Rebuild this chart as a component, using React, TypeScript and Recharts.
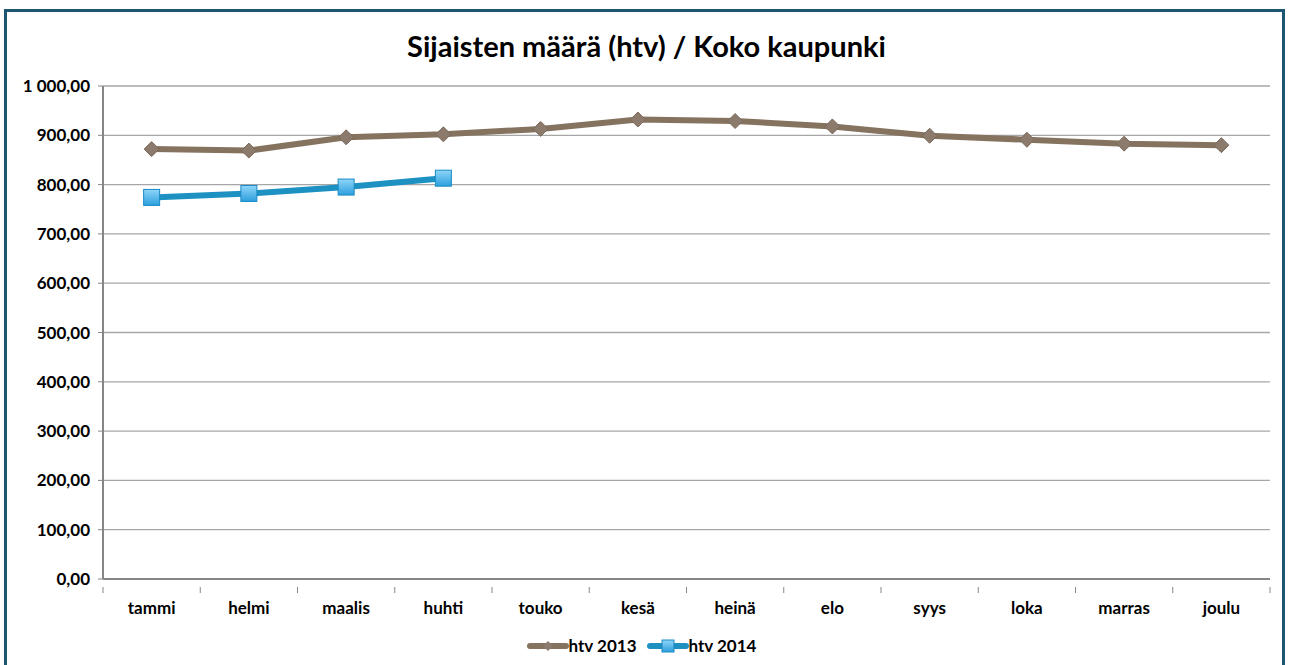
import React from 'react';
import { LineChart, Line, XAxis, YAxis, CartesianGrid } from 'recharts';

const months = ['tammi', 'helmi', 'maalis', 'huhti', 'touko', 'kesä', 'heinä', 'elo', 'syys', 'loka', 'marras', 'joulu'];
const htv2013 = [872, 869, 896, 902, 913, 932, 929, 918, 899, 891, 883, 880];
const htv2014: (number | null)[] = [774, 782, 795, 813, null, null, null, null, null, null, null, null];
const yTicks = [0, 100, 200, 300, 400, 500, 600, 700, 800, 900, 1000];

const seriesNames = ['htv 2013', 'htv 2014'];
const colors = { s2013: '#85735f', s2013Marker: '#8c7b6c', s2014: '#1e91c3' };

const data = months.map((m, i) => ({ month: m, a: htv2013[i], b: htv2014[i] }));

const W = 1293;
const H = 665;
const plotLeft = 103;
const plotRight = 1270;
const band = (plotRight - plotLeft) / months.length;
const font = 'Lato, "Open Sans", sans-serif';

document.body.style.margin = '0';

function fmt(v: number) {
  const s = v.toFixed(2).replace('.', ',');
  const [int, dec] = s.split(',');
  return int.replace(/\B(?=(\d{3})+(?!\d))/g, ' ') + ',' + dec;
}

function Diamond({ cx, cy }: { cx: number; cy: number }) {
  const r = 7.5;
  return (
    <path
      d={`M${cx},${cy - r} L${cx + r},${cy} L${cx},${cy + r} L${cx - r},${cy} Z`}
      fill={colors.s2013Marker}
      stroke="#7a6a5c"
      strokeWidth={1}
    />
  );
}

function Square({ cx, cy }: { cx: number; cy: number }) {
  const s = 8;
  return (
    <rect x={cx - s} y={cy - s} width={s * 2} height={s * 2} fill="url(#sqGrad)" stroke="#1a8bc6" strokeWidth={1} />
  );
}

function MonthTick(props: any) {
  const { x, y, payload, index } = props;
  return (
    <g>
      <line x1={x - band / 2} y1={y} x2={x - band / 2} y2={y + 6} stroke="#868686" />
      {index === months.length - 1 && (
        <line x1={x + band / 2} y1={y} x2={x + band / 2} y2={y + 6} stroke="#868686" />
      )}
      <text x={x} y={y + 27} textAnchor="middle" fontFamily={font} fontWeight="bold" fontSize={17} fill="#000">
        {payload.value}
      </text>
    </g>
  );
}

function LegendItem({ name, kind }: { name: string; kind: 'diamond' | 'square' }) {
  return (
    <div style={{ display: 'flex', alignItems: 'center', marginRight: 10 }}>
      <svg width={42} height={16}>
        <line x1={3} y1={8} x2={39} y2={8} stroke={kind === 'diamond' ? colors.s2013 : colors.s2014} strokeWidth={6} strokeLinecap="round" />
        {kind === 'diamond' ? (
          <path d="M21,3 L26,8 L21,13 L16,8 Z" fill={colors.s2013Marker} />
        ) : (
          <rect x={15} y={2} width={12} height={12} fill="url(#sqGrad2)" stroke="#1a8bc6" />
        )}
        <defs>
          <linearGradient id="sqGrad2" x1="0" y1="0" x2="0" y2="1">
            <stop offset="0%" stopColor="#8fd6fa" />
            <stop offset="100%" stopColor="#2c9fdc" />
          </linearGradient>
        </defs>
      </svg>
      <span style={{ fontFamily: font, fontWeight: 'bold', fontSize: 17, color: '#000' }}>{name}</span>
    </div>
  );
}

export default function App() {
  return (
    <div style={{ position: 'relative', width: W, height: H, background: '#fff', overflow: 'hidden' }}>
      <div
        style={{
          position: 'absolute',
          left: 4,
          top: 9,
          width: W - 12,
          height: H + 10,
          border: '3px solid #1d5670',
          boxSizing: 'border-box',
        }}
      />
      <div
        style={{
          position: 'absolute',
          top: 28,
          left: 0,
          width: W,
          textAlign: 'center',
          fontFamily: font,
          fontWeight: 'bold',
          fontSize: 29,
          color: '#000',
        }}
      >
        Sijaisten määrä (htv) / Koko kaupunki
      </div>
      <div style={{ position: 'absolute', left: 0, top: 0 }}>
        <LineChart width={W} height={H} data={data} margin={{ top: 86, right: W - plotRight, left: 0, bottom: 0 }}>
          <defs>
            <linearGradient id="sqGrad" x1="0" y1="0" x2="0" y2="1">
              <stop offset="0%" stopColor="#8fd6fa" />
              <stop offset="100%" stopColor="#2c9fdc" />
            </linearGradient>
          </defs>
          <CartesianGrid vertical={false} stroke="#a6a6a6" strokeWidth={1.3} />
          <XAxis
            dataKey="month"
            scale="band"
            height={86}
            tickLine={false}
            axisLine={{ stroke: '#868686', strokeWidth: 2 }}
            tick={<MonthTick />}
            interval={0}
          />
          <YAxis
            width={plotLeft}
            domain={[0, 1000]}
            ticks={yTicks}
            tickFormatter={fmt}
            tickSize={5}
            tickMargin={8}
            axisLine={{ stroke: '#868686', strokeWidth: 2 }}
            tickLine={{ stroke: '#868686' }}
            tick={{ fontFamily: font, fontWeight: 'bold', fontSize: 17, fill: '#000' }}
            interval={0}
          />
          <Line
            dataKey="a"
            name={seriesNames[0]}
            stroke={colors.s2013}
            strokeWidth={6}
            isAnimationActive={false}
            dot={(p: any) => <Diamond key={`d${p.index}`} cx={p.cx} cy={p.cy} />}
            activeDot={false}
          />
          <Line
            dataKey="b"
            name={seriesNames[1]}
            stroke={colors.s2014}
            strokeWidth={6}
            isAnimationActive={false}
            connectNulls={false}
            dot={(p: any) =>
              p.value == null ? <g key={`s${p.index}`} /> : <Square key={`s${p.index}`} cx={p.cx} cy={p.cy} />
            }
            activeDot={false}
          />
        </LineChart>
      </div>
      <div
        style={{
          position: 'absolute',
          top: 635,
          left: 0,
          width: W,
          display: 'flex',
          justifyContent: 'center',
        }}
      >
        <LegendItem name={seriesNames[0]} kind="diamond" />
        <LegendItem name={seriesNames[1]} kind="square" />
      </div>
    </div>
  );
}
